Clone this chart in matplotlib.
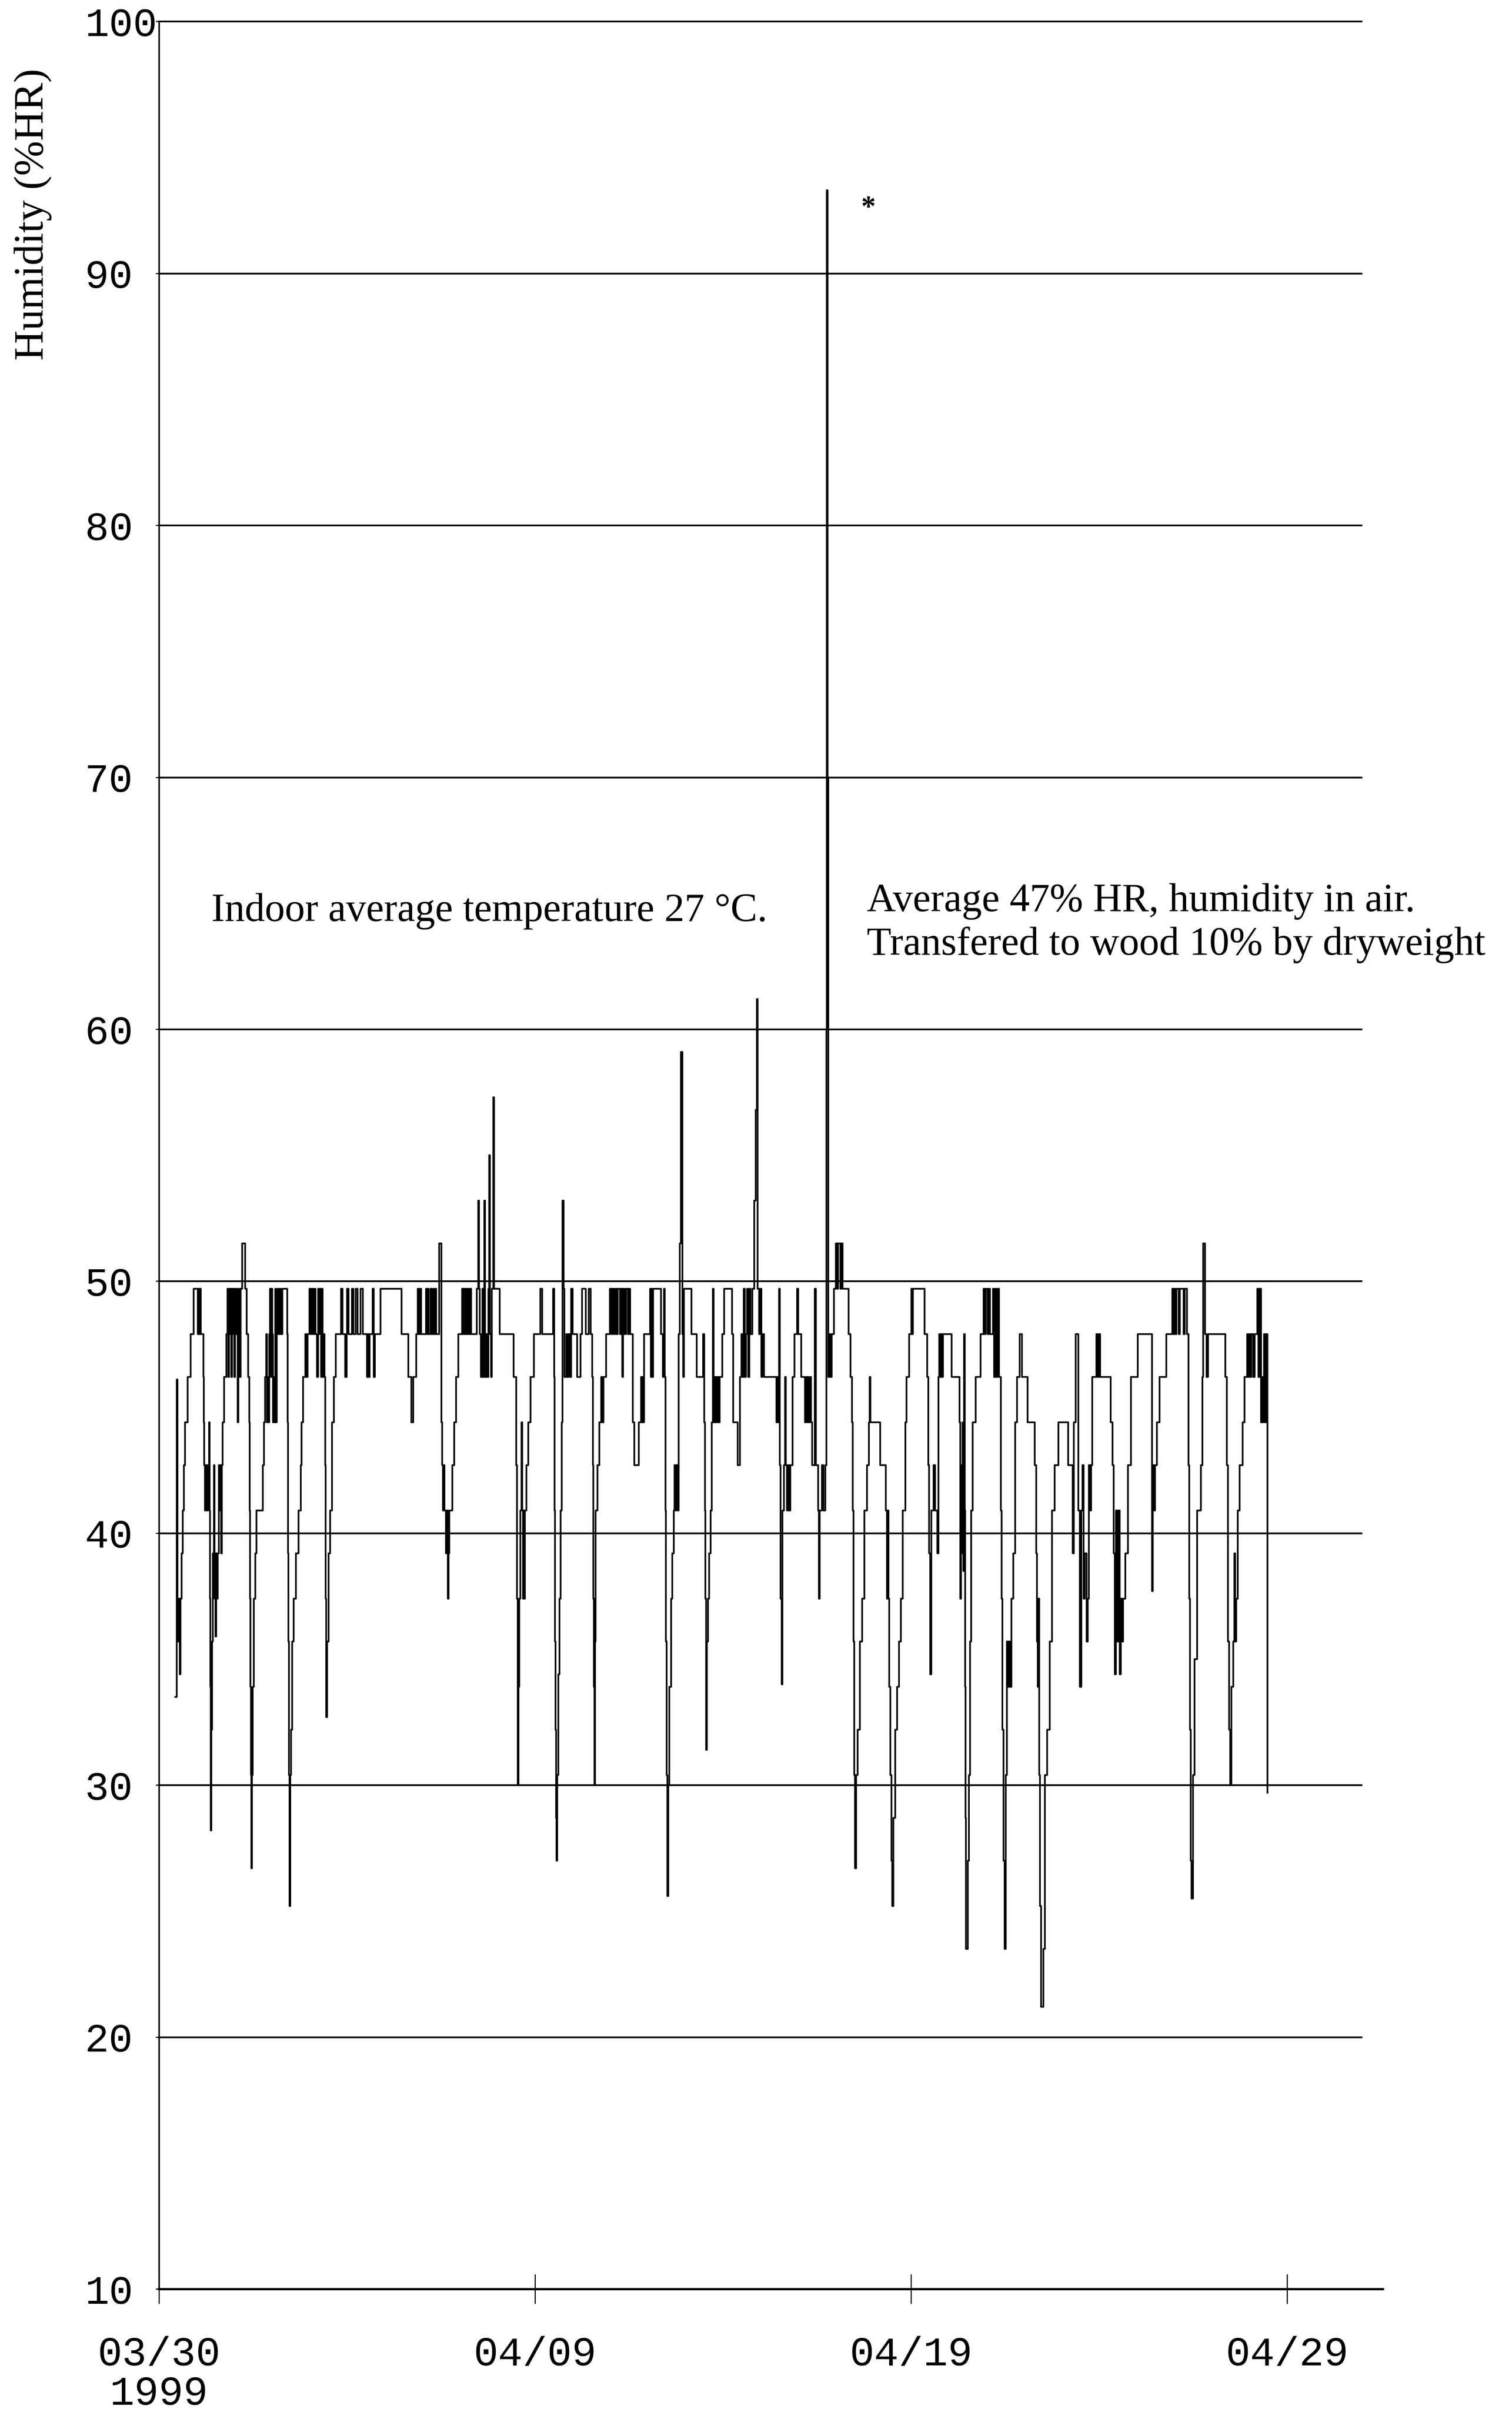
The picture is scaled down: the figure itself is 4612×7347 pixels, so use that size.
import matplotlib
matplotlib.use("Agg")
import matplotlib.pyplot as plt

# humidity trace: (day since 03/30, %HR), each value holds until the next entry
seg1 = [(0.43, 33.5), (0.47, 46.1), (0.49, 37.4), (0.51, 35.7), (0.53, 37.4), (0.55, 34.4), (0.57, 37.4),
        (0.60, 39.2), (0.63, 40.9), (0.66, 42.7), (0.69, 44.4), (0.76, 46.2), (0.84, 47.9), (0.92, 49.7),
        (1.03, 47.9), (1.05, 49.7), (1.07, 47.9), (1.09, 49.7), (1.11, 47.9), (1.18, 46.2), (1.19, 44.4),
        (1.20, 42.7), (1.22, 40.9), (1.25, 42.7), (1.28, 40.9), (1.31, 42.7), (1.33, 44.4), (1.345, 40.9),
        (1.355, 37.4), (1.365, 33.9), (1.375, 28.2), (1.39, 32.2), (1.41, 35.7), (1.43, 39.2), (1.46, 42.7),
        (1.475, 37.4), (1.49, 39.2), (1.50, 35.9), (1.52, 39.2), (1.54, 37.4), (1.56, 39.2), (1.59, 42.7),
        (1.61, 40.9), (1.63, 42.7), (1.65, 39.2), (1.67, 42.7), (1.69, 44.4), (1.73, 46.2), (1.79, 47.9),
        (1.82, 49.7), (1.84, 46.2), (1.86, 49.7), (1.88, 47.9), (1.90, 49.7), (1.92, 46.2), (1.94, 49.7),
        (1.96, 47.9), (1.98, 49.7), (2.00, 46.2), (2.02, 49.7), (2.04, 47.9), (2.07, 49.7), (2.09, 44.4),
        (2.11, 47.9), (2.13, 49.7), (2.15, 46.2), (2.17, 49.7), (2.21, 51.5), (2.29, 49.7), (2.33, 47.9),
        (2.37, 46.2), (2.40, 44.4), (2.41, 40.9), (2.42, 37.4), (2.43, 33.9), (2.445, 30.4), (2.455, 26.7),
        (2.47, 30.4), (2.49, 33.9), (2.52, 37.4), (2.56, 39.2), (2.59, 40.9), (2.76, 42.7), (2.79, 44.4),
        (2.82, 46.2), (2.85, 47.9), (2.87, 44.4), (2.89, 46.2), (2.91, 44.4), (2.93, 47.9), (2.95, 49.7),
        (2.97, 46.2), (2.99, 49.7), (3.01, 47.9), (3.03, 44.4), (3.05, 46.2), (3.07, 44.4), (3.09, 49.7),
        (3.11, 44.4), (3.13, 47.9), (3.15, 49.7), (3.18, 47.9), (3.21, 49.7), (3.24, 47.9), (3.28, 49.7),
        (3.41, 47.9), (3.42, 44.4), (3.43, 39.2), (3.44, 35.7), (3.455, 30.4), (3.47, 25.2), (3.49, 30.4),
        (3.51, 32.2), (3.54, 35.7), (3.58, 37.4), (3.64, 39.2), (3.71, 40.9), (3.77, 42.7), (3.79, 44.4),
        (3.83, 46.2), (3.89, 47.9), (3.92, 46.2), (3.95, 47.9), (4.00, 49.7), (4.04, 47.9), (4.07, 49.7),
        (4.10, 47.9), (4.13, 49.7), (4.16, 47.9), (4.20, 46.2), (4.23, 49.7), (4.26, 47.9), (4.29, 49.7),
        (4.31, 46.2), (4.33, 49.7), (4.35, 46.2), (4.37, 47.9), (4.40, 46.2), (4.42, 42.7), (4.43, 37.4),
        (4.445, 32.7), (4.47, 35.7), (4.51, 39.2), (4.55, 40.9), (4.60, 44.4), (4.65, 46.2), (4.70, 47.9),
        (4.84, 49.7)]

seg2 = [(4.88, 47.9), (4.95, 46.2), (4.99, 47.9), (5.00, 49.7), (5.04, 47.9), (5.13, 49.7), (5.17, 47.9),
        (5.23, 49.7), (5.28, 47.9), (5.36, 49.7), (5.42, 47.9), (5.53, 46.2), (5.55, 47.9), (5.57, 46.2),
        (5.60, 47.9), (5.68, 49.7), (5.71, 46.2), (5.74, 47.9), (5.89, 49.7), (6.45, 47.9), (6.63, 46.2),
        (6.71, 44.4), (6.76, 46.2), (6.84, 47.9), (6.88, 49.7), (6.91, 47.9), (6.94, 49.7), (6.97, 47.9),
        (7.10, 49.7), (7.12, 47.9), (7.14, 49.7), (7.17, 47.9), (7.22, 49.7), (7.25, 47.9), (7.29, 49.7),
        (7.31, 47.9), (7.34, 49.7), (7.37, 47.9), (7.45, 51.5), (7.51, 44.4), (7.53, 42.7), (7.55, 40.9),
        (7.57, 42.7), (7.59, 40.9), (7.63, 39.2), (7.66, 40.9), (7.68, 37.4), (7.70, 39.2), (7.72, 40.9),
        (7.80, 42.7), (7.85, 44.4), (7.90, 46.2), (7.96, 47.9), (8.06, 49.7), (8.08, 47.9), (8.10, 49.7),
        (8.12, 47.9), (8.14, 49.7), (8.16, 47.9), (8.18, 49.7), (8.20, 47.9), (8.22, 49.7), (8.25, 47.9),
        (8.27, 49.7), (8.30, 47.9), (8.45, 49.7), (8.49, 53.2), (8.51, 49.7), (8.53, 47.9), (8.56, 46.2),
        (8.60, 49.7), (8.63, 46.2), (8.65, 53.2), (8.67, 46.2), (8.70, 47.9), (8.73, 46.2), (8.76, 49.7),
        (8.78, 55.0), (8.80, 47.9), (8.83, 46.2), (8.85, 49.7), (8.89, 57.3), (8.91, 49.7), (9.06, 47.9),
        (9.43, 46.2), (9.50, 42.7), (9.52, 37.4), (9.54, 30.0), (9.56, 33.9), (9.58, 37.4), (9.61, 40.9),
        (9.64, 44.4), (9.66, 40.9), (9.68, 37.4), (9.69, 40.9), (9.71, 37.4), (9.73, 40.9), (9.77, 42.7),
        (9.82, 44.4), (9.88, 46.2), (9.97, 47.9)]

seg3 = [(10.14, 49.7), (10.19, 47.9), (10.48, 49.7), (10.51, 46.2), (10.52, 40.9), (10.53, 35.7),
        (10.545, 32.2), (10.56, 28.7), (10.57, 27.0), (10.59, 30.4), (10.62, 34.4), (10.65, 37.4),
        (10.68, 40.9), (10.71, 44.4), (10.73, 53.2), (10.76, 49.7), (10.78, 46.2), (10.83, 47.9),
        (10.85, 46.2), (10.89, 47.9), (10.93, 46.2), (10.96, 49.7), (11.00, 47.9), (11.12, 46.2),
        (11.21, 47.9), (11.25, 49.7), (11.35, 47.9), (11.43, 49.7), (11.48, 47.9), (11.52, 46.2),
        (11.54, 42.7), (11.55, 37.4), (11.565, 33.9), (11.58, 30.0), (11.595, 35.7), (11.61, 40.9),
        (11.66, 42.7), (11.71, 44.4), (11.76, 46.2), (11.79, 44.4), (11.82, 46.2), (11.89, 47.9),
        (11.99, 49.7), (12.03, 47.9), (12.06, 49.7), (12.10, 47.9), (12.13, 49.7), (12.17, 47.9),
        (12.20, 49.7), (12.26, 47.9), (12.30, 49.7), (12.32, 46.2), (12.34, 49.7), (12.38, 47.9),
        (12.42, 49.7), (12.47, 47.9), (12.50, 49.7), (12.53, 47.9), (12.60, 44.4), (12.64, 42.7),
        (12.76, 44.4), (12.82, 46.2), (12.84, 44.4), (12.86, 46.2), (12.88, 44.4), (12.90, 47.9),
        (13.06, 49.7), (13.08, 46.2), (13.10, 49.7), (13.12, 46.2), (13.14, 49.7), (13.35, 47.9),
        (13.40, 46.2), (13.43, 49.7), (13.45, 46.2), (13.47, 40.9), (13.48, 35.7), (13.50, 30.4),
        (13.52, 25.6), (13.545, 30.0), (13.57, 33.9), (13.62, 37.4), (13.65, 39.2), (13.69, 40.9),
        (13.71, 42.7), (13.73, 40.9), (13.76, 42.7), (13.80, 40.9), (13.82, 47.9), (13.85, 51.5),
        (13.88, 59.1), (13.92, 47.9), (13.94, 46.2), (13.96, 49.7), (14.16, 47.9), (14.30, 46.2),
        (14.47, 47.9), (14.50, 44.4), (14.52, 40.9), (14.53, 37.4), (14.55, 31.4), (14.57, 35.7),
        (14.60, 37.4), (14.63, 39.2), (14.67, 40.9), (14.70, 44.4), (14.73, 49.7), (14.75, 44.4),
        (14.78, 46.2), (14.81, 44.4), (14.84, 46.2), (14.88, 44.4), (14.91, 46.2)]

seg4 = [(14.98, 47.9), (15.03, 49.7), (15.24, 47.9), (15.27, 44.4), (15.39, 42.7), (15.45, 46.2),
        (15.49, 47.9), (15.52, 46.2), (15.55, 49.7), (15.58, 46.2), (15.61, 47.9), (15.64, 49.7),
        (15.67, 46.2), (15.70, 49.7), (15.73, 47.9), (15.78, 49.7), (15.83, 53.2), (15.87, 56.8),
        (15.90, 61.2), (15.92, 49.7), (15.96, 47.9), (15.99, 49.7), (16.02, 46.2), (16.05, 47.9),
        (16.09, 46.2), (16.42, 44.4), (16.44, 46.2), (16.46, 44.4), (16.49, 49.7), (16.51, 42.7),
        (16.53, 37.4), (16.56, 34.0), (16.58, 40.9), (16.62, 42.7), (16.65, 46.2), (16.67, 42.7),
        (16.70, 40.9), (16.73, 42.7), (16.76, 40.9), (16.79, 42.7), (16.85, 46.2), (16.90, 47.9),
        (16.97, 49.7), (17.00, 47.9), (17.08, 46.2), (17.18, 44.4), (17.22, 46.2), (17.26, 44.4),
        (17.30, 46.2), (17.34, 44.4), (17.37, 42.7), (17.44, 49.7), (17.47, 42.7), (17.53, 40.9),
        (17.55, 37.4), (17.57, 40.9), (17.63, 42.7), (17.67, 40.9), (17.72, 42.7), (17.75, 60.0),
        (17.76, 93.3), (17.78, 70.0), (17.80, 46.2), (17.83, 47.9), (17.86, 46.2), (17.89, 47.9),
        (17.95, 49.7), (18.00, 51.5), (18.04, 49.7), (18.06, 51.5), (18.12, 49.7), (18.14, 51.5),
        (18.18, 49.7), (18.34, 47.9), (18.39, 46.2), (18.43, 44.4), (18.45, 40.9), (18.47, 35.7),
        (18.49, 30.4), (18.51, 26.7), (18.54, 30.4), (18.58, 32.2), (18.64, 35.7), (18.70, 37.4),
        (18.76, 40.9), (18.83, 42.7), (18.88, 44.4), (18.90, 46.2), (18.92, 44.4), (19.18, 42.7),
        (19.33, 40.9), (19.36, 37.4), (19.38, 40.9), (19.40, 37.4), (19.42, 33.9), (19.45, 30.4),
        (19.48, 27.0), (19.50, 25.2), (19.53, 28.7), (19.58, 32.2), (19.63, 33.9), (19.68, 35.7),
        (19.73, 37.4), (19.78, 40.9), (19.85, 44.4), (19.88, 46.2)]

seg5 = [(19.95, 47.9), (20.01, 49.7), (20.03, 47.9), (20.05, 49.7), (20.36, 47.9), (20.43, 46.2),
        (20.46, 42.7), (20.48, 39.2), (20.51, 34.4), (20.54, 40.9), (20.60, 42.7), (20.64, 40.9),
        (20.70, 39.2), (20.73, 46.2), (20.75, 47.9), (20.77, 46.2), (20.80, 47.9), (20.82, 46.2),
        (20.85, 47.9), (21.08, 46.2), (21.29, 44.4), (21.31, 37.4), (21.33, 42.7), (21.35, 39.2),
        (21.37, 44.4), (21.39, 38.5), (21.41, 47.9), (21.43, 40.9), (21.44, 33.9), (21.45, 28.7),
        (21.46, 23.5), (21.51, 27.0), (21.54, 30.4), (21.57, 35.7), (21.60, 40.9), (21.64, 44.4),
        (21.72, 46.2), (21.85, 47.9), (21.93, 49.7), (21.96, 47.9), (21.99, 49.7), (22.04, 47.9),
        (22.07, 49.7), (22.10, 47.9), (22.18, 49.7), (22.21, 46.2), (22.24, 49.7), (22.27, 46.2),
        (22.30, 49.7), (22.34, 46.2), (22.39, 40.9), (22.41, 37.4), (22.43, 32.2), (22.46, 27.0),
        (22.49, 23.5), (22.52, 30.4), (22.55, 35.7), (22.57, 33.9), (22.60, 35.7), (22.63, 33.9),
        (22.67, 37.4), (22.72, 39.2), (22.77, 44.4), (22.82, 46.2), (22.89, 47.9), (22.95, 46.2),
        (23.10, 44.4), (23.29, 42.7), (23.33, 39.2), (23.35, 35.7), (23.37, 33.9), (23.39, 37.4),
        (23.41, 30.4), (23.43, 25.2), (23.46, 21.2), (23.52, 23.5), (23.56, 30.4), (23.62, 32.2),
        (23.69, 35.7), (23.75, 40.9), (23.82, 42.7), (23.92, 44.4), (24.18, 42.7), (24.30, 39.2),
        (24.33, 44.4), (24.38, 47.9), (24.45, 40.9), (24.49, 33.9), (24.53, 40.9), (24.56, 42.7),
        (24.59, 37.4), (24.62, 39.2), (24.67, 35.7), (24.70, 37.4), (24.73, 42.7), (24.76, 40.9),
        (24.79, 42.7), (24.82, 46.2)]

seg6 = [(24.93, 47.9), (24.96, 46.2), (24.99, 47.9), (25.03, 46.2), (25.31, 44.4), (25.36, 42.7),
        (25.39, 39.2), (25.42, 34.4), (25.45, 40.9), (25.48, 35.7), (25.51, 40.9), (25.55, 34.4),
        (25.58, 37.4), (25.61, 35.7), (25.64, 37.4), (25.70, 39.2), (25.77, 42.7), (25.85, 46.2),
        (26.03, 47.9), (26.41, 37.7), (26.43, 42.7), (26.46, 40.9), (26.49, 42.7), (26.54, 44.4),
        (26.61, 46.2), (26.79, 47.9), (26.95, 49.7), (26.98, 47.9), (27.00, 49.7), (27.03, 47.9),
        (27.06, 49.7), (27.12, 47.9), (27.15, 49.7), (27.25, 47.9), (27.28, 49.7), (27.34, 47.9),
        (27.38, 42.7), (27.40, 37.4), (27.42, 32.2), (27.44, 27.0), (27.46, 25.5), (27.50, 30.4),
        (27.54, 35.0), (27.61, 40.9), (27.71, 42.7), (27.75, 46.2), (27.77, 51.5), (27.82, 47.9),
        (27.86, 46.2), (27.90, 47.9), (28.36, 46.2), (28.40, 42.7), (28.43, 35.7), (28.46, 32.2),
        (28.49, 30.0), (28.52, 33.9), (28.57, 35.7), (28.60, 39.2), (28.62, 35.7), (28.65, 37.4),
        (28.69, 40.9), (28.74, 42.7), (28.82, 44.4), (28.87, 46.2), (28.94, 47.9), (28.96, 46.2),
        (28.99, 47.9), (29.02, 46.2), (29.05, 47.9), (29.10, 46.2), (29.14, 47.9), (29.21, 49.7),
        (29.24, 46.2), (29.27, 49.7), (29.31, 44.4), (29.34, 46.2), (29.37, 44.4), (29.39, 47.9),
        (29.43, 44.4), (29.46, 47.9), (29.48, 29.7)]

grid_levels = [20, 30, 40, 50, 60, 70, 80, 90, 100]
y_ticks = [10, 20, 30, 40, 50, 60, 70, 80, 90, 100]
x_ticks = [0, 10, 20, 30]
x_labels = ["03/30\n1999", "04/09", "04/19", "04/29"]

trace = seg1 + seg2 + seg3 + seg4 + seg5 + seg6
days = [p[0] for p in trace]
hr = [p[1] for p in trace]

mono = "Liberation Mono"
serif = "Liberation Serif"

fig = plt.figure(figsize=(46.12, 73.47), dpi=100)
ax = fig.add_axes([0.1052, 0.0498, 0.8094, 0.9413])

ax.hlines(grid_levels, 0, 32.0, colors="black", lw=3.8, clip_on=False)
ax.plot(days, hr, drawstyle="steps-post", color="black", lw=3.7)

ax.set_xlim(0, 32.55)
ax.set_ylim(10, 100)
ax.spines["top"].set_visible(False)
ax.spines["right"].set_visible(False)
ax.spines["left"].set_linewidth(3.4)
ax.spines["bottom"].set_linewidth(4.8)

ax.set_yticks(y_ticks)
ax.set_yticklabels([str(v) for v in y_ticks], family=mono, fontsize=88)
ax.tick_params(axis="y", direction="out", length=7, width=2.5, pad=156)
for lab in ax.get_yticklabels():
    lab.set_horizontalalignment("left")

ax.set_xticks(x_ticks)
ax.set_xticklabels(x_labels, family=mono, fontsize=90)
ax.tick_params(axis="x", direction="inout", length=65, width=2.4, pad=70)
for lab in ax.get_xticklabels():
    lab.set_linespacing(1.05)

fig.text(0.0217, 0.911, "Humidity (%HR)", rotation=90, ha="center", va="center",
         family=serif, fontsize=92)

ax.text(1.39, 64.3, "Indoor average temperature 27 \u00b0C.", family=serif, fontsize=88,
        ha="left", va="baseline")
ax.text(18.82, 64.69, "Average 47% HR, humidity in air.", family=serif, fontsize=88,
        ha="left", va="baseline")
ax.text(18.82, 62.95, "Transfered to wood 10% by dryweight", family=serif, fontsize=88,
        ha="left", va="baseline")
ax.text(18.86, 92.3, "*", family=serif, fontsize=64, fontweight="bold", ha="center", va="baseline")

fig.savefig("out.png", dpi=100, facecolor="white")
